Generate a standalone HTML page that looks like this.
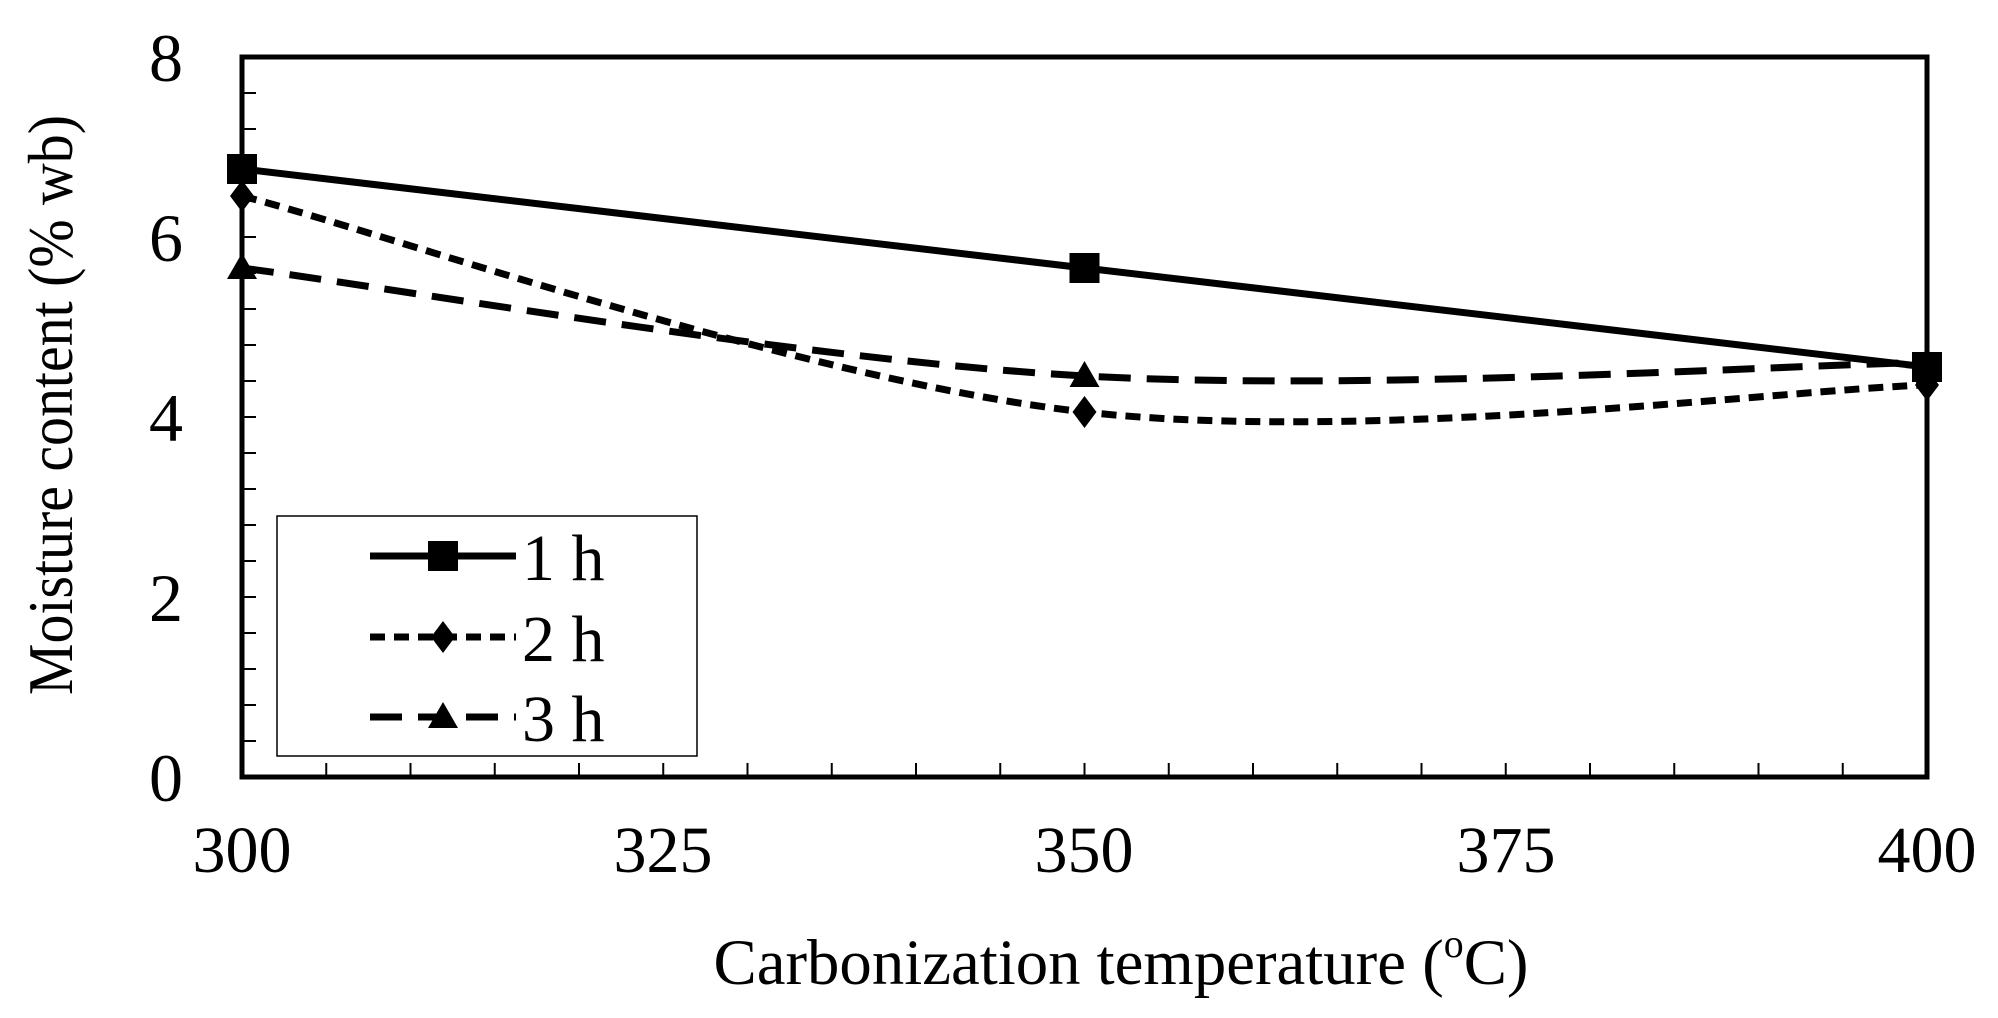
<!DOCTYPE html>
<html><head><meta charset="utf-8"><style>
html,body{margin:0;padding:0;background:#fff;}
svg{display:block;}
text{font-family:"Liberation Serif",serif;fill:#000;}
</style></head><body>
<svg width="1998" height="1018" viewBox="0 0 1998 1018" xmlns="http://www.w3.org/2000/svg">
<rect x="0" y="0" width="1998" height="1018" fill="#fff"/>
<rect x="242" y="57" width="1685" height="720" fill="none" stroke="#000" stroke-width="5"/>
<g stroke="#000" stroke-width="2">
<line x1="242" y1="741" x2="256" y2="741"/><line x1="242" y1="705" x2="256" y2="705"/>
<line x1="242" y1="669" x2="256" y2="669"/><line x1="242" y1="633" x2="256" y2="633"/>
<line x1="242" y1="597" x2="256" y2="597"/><line x1="242" y1="561" x2="256" y2="561"/>
<line x1="242" y1="525" x2="256" y2="525"/><line x1="242" y1="489" x2="256" y2="489"/>
<line x1="242" y1="453" x2="256" y2="453"/><line x1="242" y1="417" x2="256" y2="417"/>
<line x1="242" y1="381" x2="256" y2="381"/><line x1="242" y1="345" x2="256" y2="345"/>
<line x1="242" y1="309" x2="256" y2="309"/><line x1="242" y1="273" x2="256" y2="273"/>
<line x1="242" y1="237" x2="256" y2="237"/><line x1="242" y1="201" x2="256" y2="201"/>
<line x1="242" y1="165" x2="256" y2="165"/><line x1="242" y1="129" x2="256" y2="129"/>
<line x1="242" y1="93" x2="256" y2="93"/>
</g>
<g stroke="#000" stroke-width="2">
<line x1="326.25" y1="777" x2="326.25" y2="763"/><line x1="410.5" y1="777" x2="410.5" y2="763"/>
<line x1="494.75" y1="777" x2="494.75" y2="763"/><line x1="579" y1="777" x2="579" y2="763"/>
<line x1="663.25" y1="777" x2="663.25" y2="763"/><line x1="747.5" y1="777" x2="747.5" y2="763"/>
<line x1="831.75" y1="777" x2="831.75" y2="763"/><line x1="916" y1="777" x2="916" y2="763"/>
<line x1="1000.25" y1="777" x2="1000.25" y2="763"/><line x1="1084.5" y1="777" x2="1084.5" y2="763"/>
<line x1="1168.75" y1="777" x2="1168.75" y2="763"/><line x1="1253" y1="777" x2="1253" y2="763"/>
<line x1="1337.25" y1="777" x2="1337.25" y2="763"/><line x1="1421.5" y1="777" x2="1421.5" y2="763"/>
<line x1="1505.75" y1="777" x2="1505.75" y2="763"/><line x1="1590" y1="777" x2="1590" y2="763"/>
<line x1="1674.25" y1="777" x2="1674.25" y2="763"/><line x1="1758.5" y1="777" x2="1758.5" y2="763"/>
<line x1="1842.75" y1="777" x2="1842.75" y2="763"/>
</g>
<g font-size="68" text-anchor="middle">
<text x="166" y="801">0</text><text x="166" y="621">2</text>
<text x="166" y="441">4</text><text x="166" y="261">6</text><text x="166" y="81">8</text>
</g>
<g font-size="66" text-anchor="middle">
<text x="242" y="872">300</text><text x="663" y="872">325</text>
<text x="1084" y="872">350</text><text x="1506" y="872">375</text><text x="1927" y="872">400</text>
</g>
<text x="1121" y="984" font-size="65" text-anchor="middle" textLength="815" lengthAdjust="spacingAndGlyphs">Carbonization temperature (<tspan font-size="40" dy="-27">o</tspan><tspan dy="27">C)</tspan></text>
<text transform="translate(72,405) rotate(-90)" font-size="64" text-anchor="middle" textLength="580" lengthAdjust="spacingAndGlyphs">Moisture content (% wb)</text>
<polyline points="242,169 1084.5,268 1927,367" fill="none" stroke="#000" stroke-width="7"/>
<path d="M242,196 C382,232 804,380.5 1084.5,412 C1365,443.5 1786.6,389.5 1927,385" fill="none" stroke="#000" stroke-width="7" stroke-dasharray="15,9"/>
<path d="M242,268 C382,286 803.5,360.25 1084.5,376 C1365.5,391.75 1787,364.75 1927,362.5" fill="none" stroke="#000" stroke-width="7" stroke-dasharray="32,16"/>
<g fill="#000">
<rect x="227" y="154" width="30" height="30"/><rect x="1069.5" y="253" width="30" height="30"/><rect x="1912" y="352" width="30" height="30"/>
<polygon points="242,180 254,196 242,212 230,196"/><polygon points="1084.5,396 1096.5,412 1084.5,428 1072.5,412"/><polygon points="1927,369 1939,385 1927,401 1915,385"/>
<polygon points="242,253 257,279 227,279"/><polygon points="1084.5,361 1099.5,387 1069.5,387"/><polygon points="1927,347 1942,373 1912,373"/>
</g>
<rect x="277" y="516" width="420" height="240" fill="#fff" stroke="#000" stroke-width="1.5"/>
<line x1="370" y1="556" x2="516" y2="556" stroke="#000" stroke-width="7"/>
<rect x="428" y="541" width="30" height="30" fill="#000"/>
<line x1="370" y1="637" x2="516" y2="637" stroke="#000" stroke-width="7" stroke-dasharray="15,9"/>
<polygon points="443,621 455,637 443,653 431,637" fill="#000"/>
<line x1="370" y1="717" x2="516" y2="717" stroke="#000" stroke-width="7" stroke-dasharray="32,16"/>
<polygon points="443,702 458,728 428,728" fill="#000"/>
<g font-size="66">
<text x="522" y="580">1 h</text><text x="522" y="661">2 h</text><text x="522" y="741">3 h</text>
</g>
</svg>
</body></html>
